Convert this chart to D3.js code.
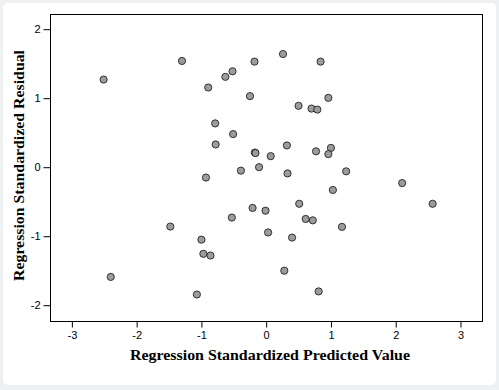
<!DOCTYPE html>
<html>
<head>
<meta charset="utf-8">
<script src="https://cdn.jsdelivr.net/npm/d3@7"></script>
<style>
html, body { margin: 0; padding: 0; background: #eef0f2; }
svg { display: block; }
</style>
</head>
<body>
<svg id="chart" width="499" height="390"></svg>
<script>
// Data: standardized predicted value (x) and standardized residual (y)
const predicted = [
  -2.51, -1.30, 0.26, -0.18, 0.84, -0.52, -0.63, -0.895, -0.25, 0.96,
  0.50, 0.70, 0.79, -0.787, -0.51, -0.78, 0.32, 1.00, -0.175, -0.165,
  0.77, 0.96, 0.07, -0.11, -0.39, 0.33, 1.235, -0.93, 2.10, 1.03,
  0.51, 2.57, -0.21, -0.01, -0.53, 0.61, 0.72, -1.48, 1.17, 0.03,
  0.40, -1.00, -0.97, -0.86, 0.28, -2.40, 0.81, -1.07
];
const residual = [
  1.27, 1.54, 1.64, 1.53, 1.53, 1.39, 1.31, 1.155, 1.03, 1.005,
  0.89, 0.85, 0.835, 0.635, 0.48, 0.33, 0.315, 0.28, 0.212, 0.205,
  0.23, 0.19, 0.16, 0.0, -0.05, -0.09, -0.06, -0.15, -0.23, -0.33,
  -0.53, -0.53, -0.59, -0.63, -0.73, -0.75, -0.77, -0.86, -0.865, -0.945,
  -1.02, -1.05, -1.255, -1.28, -1.50, -1.59, -1.80, -1.845
];
const xTicks = [-3, -2, -1, 0, 1, 2, 3];
const yTicks = [-2, -1, 0, 1, 2];
const xTitle = "Regression Standardized Predicted Value";
const yTitle = "Regression Standardized Residual";

const svg = d3.select("#chart");
svg.append("rect").attr("x", 3).attr("y", 3).attr("width", 493).attr("height", 382)
  .attr("rx", 5).attr("fill", "#ffffff");

const L = 50.5, R = 482.5, T = 14.5, B = 321.5;
const x = d3.scaleLinear().domain([-3.33, 3.34]).range([L, R]);
const y = d3.scaleLinear().domain([-2.236, 2.213]).range([B, T]);

svg.append("rect").attr("x", L).attr("y", T).attr("width", R - L).attr("height", B - T)
  .attr("fill", "none").attr("stroke", "#000").attr("stroke-width", 1);

const fmt = d => String(d);
const xAxis = svg.append("g").attr("transform", `translate(0,${B})`)
  .call(d3.axisBottom(x).tickValues(xTicks).tickSize(6).tickPadding(4).tickFormat(fmt));
const yAxis = svg.append("g").attr("transform", `translate(${L},0)`)
  .call(d3.axisLeft(y).tickValues(yTicks).tickSize(7).tickPadding(3).tickFormat(fmt));
[xAxis, yAxis].forEach(g => {
  g.select(".domain").remove();
  g.selectAll("line").attr("stroke", "#000");
  g.selectAll("text").attr("font-family", "Liberation Sans, Arial, sans-serif")
    .attr("font-size", 11).attr("fill", "#000");
});

svg.append("text").attr("x", 270).attr("y", 360).attr("text-anchor", "middle")
  .attr("font-family", "Liberation Serif, Times New Roman, serif").attr("font-weight", "bold")
  .attr("font-size", 15).attr("textLength", 280).attr("lengthAdjust", "spacingAndGlyphs")
  .text(xTitle);
svg.append("text").attr("transform", "translate(24,165.5) rotate(-90)").attr("text-anchor", "middle")
  .attr("font-family", "Liberation Serif, Times New Roman, serif").attr("font-weight", "bold")
  .attr("font-size", 15).attr("textLength", 231).attr("lengthAdjust", "spacingAndGlyphs")
  .text(yTitle);

const pts = predicted.map((p, i) => ({ p, r: residual[i] }));
svg.append("g").selectAll("circle").data(pts).join("circle")
  .attr("cx", d => x(d.p)).attr("cy", d => y(d.r)).attr("r", 3.6)
  .attr("fill", "#9c9c9c").attr("stroke", "#222").attr("stroke-width", 0.9);
</script>
</body>
</html>
